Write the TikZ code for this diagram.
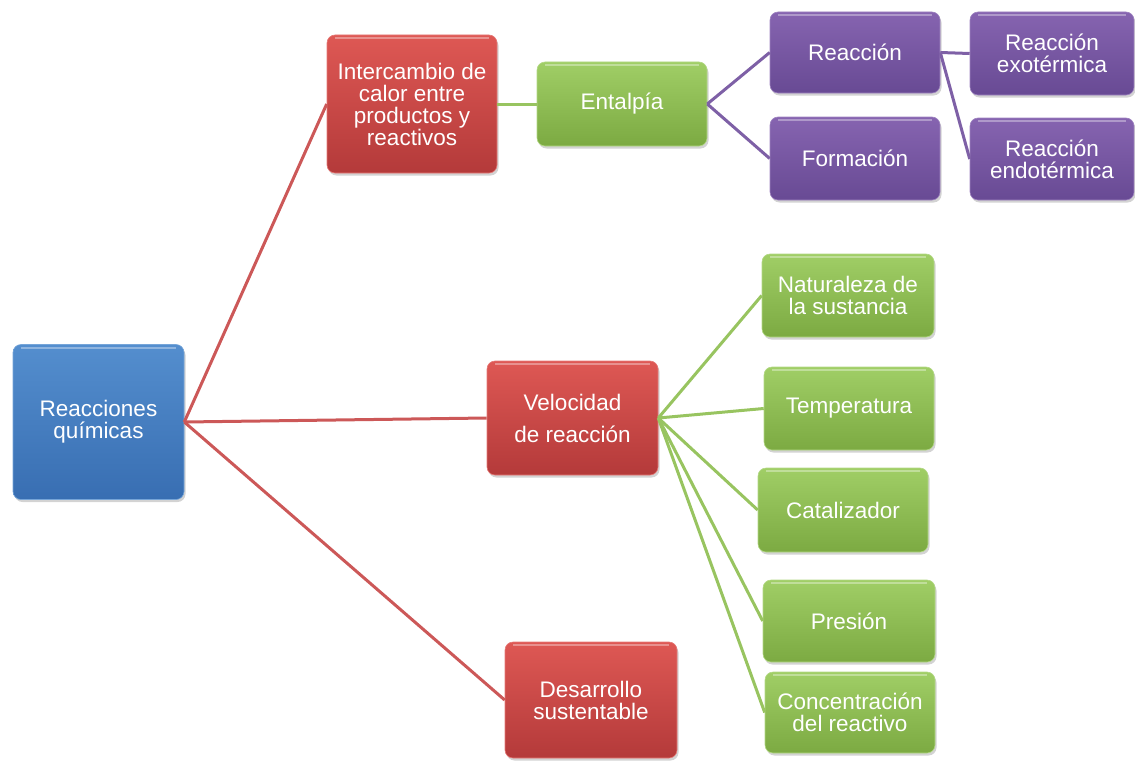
\documentclass[tikz,border=0pt]{standalone}
\usepackage{fontspec}
\setmainfont{Liberation Sans}
\usetikzlibrary{shadows}
\definecolor{bluetop}{RGB}{84,142,206}
\definecolor{bluebot}{RGB}{56,110,178}
\definecolor{redtop}{RGB}{222,88,84}
\definecolor{redbot}{RGB}{180,58,58}
\definecolor{greentop}{RGB}{160,206,102}
\definecolor{greenbot}{RGB}{124,170,66}
\definecolor{purtop}{RGB}{134,100,176}
\definecolor{purbot}{RGB}{104,74,148}
\definecolor{redline}{RGB}{204,88,88}
\definecolor{greenline}{RGB}{152,196,96}
\definecolor{purline}{RGB}{126,96,166}
\tikzset{
  box/.style={rounded corners=8pt, inner sep=2pt, align=center, text=white,
    font=\fontsize{22.5}{22}\selectfont,
    drop shadow={opacity=0.35, shadow xshift=1.5pt, shadow yshift=-2.5pt},
    path picture={\draw[white, opacity=0.35, line width=2pt]
      ([xshift=8pt,yshift=-3pt]path picture bounding box.north west) --
      ([xshift=-8pt,yshift=-3pt]path picture bounding box.north east);}},
  bluebox/.style={box, top color=bluetop, bottom color=bluebot, draw=bluetop!80!white, line width=0.6pt},
  redbox/.style={box, top color=redtop, bottom color=redbot, draw=redtop!80!white, line width=0.6pt},
  greenbox/.style={box, top color=greentop, bottom color=greenbot, draw=greentop!80!white, line width=0.6pt},
  purbox/.style={box, top color=purtop, bottom color=purbot, draw=purtop!80!white, line width=0.6pt},
  redconn/.style={draw=redline, line width=3pt},
  greenconn/.style={draw=greenline, line width=3pt},
  purconn/.style={draw=purline, line width=3pt},
}
\begin{document}
\begin{tikzpicture}[x=1pt, y=-1pt]
\useasboundingbox (0,0) rectangle (1135,768);
% nodes
\node[bluebox, minimum width=171pt, minimum height=155pt] (root) at (98.5,422) {Reacciones\\químicas};
\node[redbox, minimum width=170pt, minimum height=138pt] (inter) at (412,104) {Intercambio de\\calor entre\\productos y\\reactivos};
\node[greenbox, minimum width=170pt, minimum height=84pt] (ent) at (622,104) {Entalpía};
\node[purbox, minimum width=170pt, minimum height=81pt] (reac) at (855,52.5) {Reacción};
\node[purbox, minimum width=170pt, minimum height=83pt] (form) at (855,158.5) {Formación};
\node[purbox, minimum width=164pt, minimum height=83pt] (exo) at (1052,53.5) {Reacción\\exotérmica};
\node[purbox, minimum width=164pt, minimum height=82pt] (endo) at (1052,159) {Reacción\\endotérmica};
\node[redbox, minimum width=171pt, minimum height=114pt, font=\fontsize{22.5}{32}\selectfont] (vel) at (572.5,418) {Velocidad\\de reacción};
\node[greenbox, minimum width=172pt, minimum height=83pt] (nat) at (848,295.5) {Naturaleza de\\la sustancia};
\node[greenbox, minimum width=170pt, minimum height=83pt] (temp) at (849,408.5) {Temperatura};
\node[greenbox, minimum width=170pt, minimum height=84pt] (cat) at (843,510) {Catalizador};
\node[greenbox, minimum width=172pt, minimum height=82pt] (pres) at (849,621) {Presión};
\node[greenbox, minimum width=170pt, minimum height=81pt] (conc) at (850,712.5) {Concentración\\del reactivo};
\node[redbox, minimum width=172pt, minimum height=116pt] (des) at (591,700) {Desarrollo\\sustentable};
% connectors
\draw[redconn] (root.east) -- (inter.west);
\draw[redconn] (root.east) -- (vel.west);
\draw[redconn] (root.east) -- (des.west);
\draw[greenconn] (inter.east) -- (ent.west);
\draw[purconn] (ent.east) -- (reac.west);
\draw[purconn] (ent.east) -- (form.west);
\draw[purconn] (reac.east) -- (exo.west);
\draw[purconn] (reac.east) -- (endo.west);
\draw[greenconn] (vel.east) -- (nat.west);
\draw[greenconn] (vel.east) -- (temp.west);
\draw[greenconn] (vel.east) -- (cat.west);
\draw[greenconn] (vel.east) -- (pres.west);
\draw[greenconn] (vel.east) -- (conc.west);
\end{tikzpicture}
\end{document}
